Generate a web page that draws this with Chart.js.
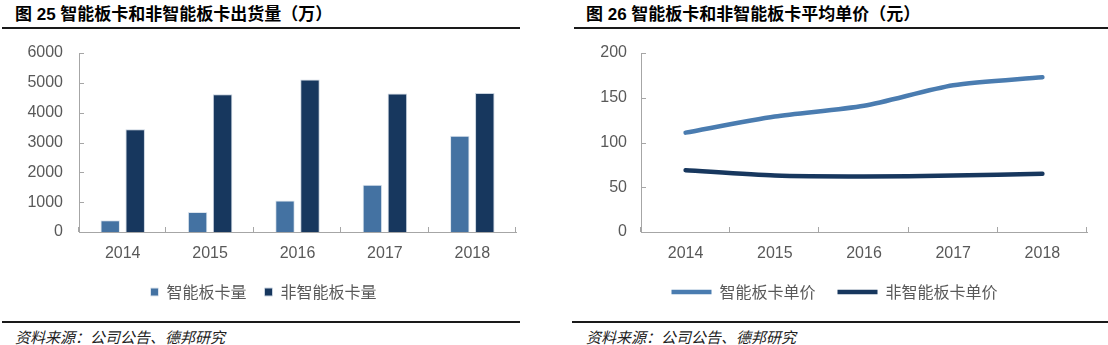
<!DOCTYPE html>
<html>
<head>
<meta charset="utf-8">
<script src="https://cdn.jsdelivr.net/npm/chart.js@4/dist/chart.umd.min.js"></script>
<style>
  body { margin: 0; background: #fff; width: 1108px; height: 345px; position: relative; overflow: hidden; }
  .title { position: absolute; top: 5px; font: bold 17px/20px "Liberation Sans", "Noto Sans CJK SC", sans-serif; color: #000; white-space: nowrap; }
  .rule { position: absolute; height: 2px; background: #1a1a1a; }
  .source { position: absolute; top: 328px; font: italic 15px/18px "Noto Sans CJK SC", sans-serif; color: #222; white-space: nowrap; }
  canvas { position: absolute; top: 40px; }
</style>
</head>
<body>
  <div class="title" style="left:15px">图 25 智能板卡和非智能板卡出货量（万）</div>
  <div class="rule" style="left:2px; width:518px; top:27px"></div>
  <canvas id="volumeChart" width="527" height="280" style="left:0"></canvas>
  <div class="rule" style="left:2px; width:518px; top:321px"></div>
  <div class="source" style="left:15px">资料来源：公司公告、德邦研究</div>

  <div class="title" style="left:586px">图 26 智能板卡和非智能板卡平均单价（元）</div>
  <div class="rule" style="left:574px; width:534px; top:27px"></div>
  <canvas id="priceChart" width="547" height="280" style="left:561px"></canvas>
  <div class="rule" style="left:572px; width:536px; top:321px"></div>
  <div class="source" style="left:586px">资料来源：公司公告、德邦研究</div>

<script>
const years = ['2014', '2015', '2016', '2017', '2018'];

// 出货量（万）
const smartVolume = [390, 670, 1060, 1580, 3230];
const nonSmartVolume = [3440, 4620, 5110, 4640, 4660];

// 平均单价（元）
const smartPrice = [111, 129, 141, 164, 173];
const nonSmartPrice = [69, 63, 62, 63, 65];

const lightBlue = '#4472a2';
const darkBlue = '#17375e';
const axisColor = '#a6a6a6';
const labelColor = '#595959';
const tickFont = { family: '"Liberation Sans", Arial, sans-serif', size: 16 };
const legendFont = { family: '"Noto Sans CJK SC", sans-serif', size: 16 };

// 坐标轴刻度线朝内
const innerTicks = {
  id: 'innerTicks',
  afterDraw(chart) {
    const { ctx, scales: { x, y } } = chart;
    ctx.save();
    ctx.strokeStyle = axisColor;
    ctx.lineWidth = 1;
    ctx.beginPath();
    const n = x.ticks.length;
    for (let i = 0; i <= n; i++) {
      const px = Math.round(x.left + i * x.width / n) - 0.5;
      ctx.moveTo(px, x.top);
      ctx.lineTo(px, x.top - 5);
    }
    y.ticks.forEach(t => {
      const py = Math.round(y.getPixelForValue(t.value)) + 0.5;
      ctx.moveTo(y.right, py);
      ctx.lineTo(y.right + 5, py);
    });
    ctx.stroke();
    ctx.restore();
  }
};

// tickLength 只用来留出标签与轴线的距离，刻度线本身由 innerTicks 画
function axes(yMax, step, yWidth, yGap, xHeight) {
  return {
    x: {
      offset: true,
      grid: { display: false, tickLength: 12 },
      border: { color: axisColor, width: 1 },
      ticks: { color: labelColor, font: tickFont, padding: 0 },
      afterFit: axis => { axis.height = xHeight; }
    },
    y: {
      min: 0,
      max: yMax,
      grid: { display: false, tickLength: yGap },
      border: { color: axisColor, width: 1 },
      ticks: { stepSize: step, color: labelColor, font: tickFont, padding: 0, callback: v => v },
      afterFit: axis => { axis.width = yWidth; }
    }
  };
}

new Chart(document.getElementById('volumeChart'), {
  type: 'bar',
  data: {
    labels: years,
    datasets: [
      { label: '智能板卡量', data: smartVolume, backgroundColor: lightBlue, borderColor: '#dde5ee', borderWidth: 1 },
      { label: '非智能板卡量', data: nonSmartVolume, backgroundColor: darkBlue, borderColor: '#c9d3df', borderWidth: 1 }
    ]
  },
  options: {
    responsive: false,
    animation: false,
    categoryPercentage: 0.572,
    barPercentage: 0.78,
    layout: { padding: { top: 13, right: 11, bottom: 10, left: 11 } },
    plugins: {
      legend: {
        position: 'bottom',
        labels: { boxWidth: 8, boxHeight: 8, padding: 18, color: labelColor, font: legendFont }
      },
      tooltip: { enabled: false }
    },
    scales: axes(6000, 1000, 68, 16, 52 - 18)
  },
  plugins: [innerTicks]
});

new Chart(document.getElementById('priceChart'), {
  type: 'line',
  data: {
    labels: years,
    datasets: [
      { label: '智能板卡单价', data: smartPrice, borderColor: '#4a7cb0', backgroundColor: '#4a7cb0', borderWidth: 4.5, borderCapStyle: 'round', pointRadius: 0, tension: 0.25 },
      { label: '非智能板卡单价', data: nonSmartPrice, borderColor: darkBlue, backgroundColor: darkBlue, borderWidth: 4.5, borderCapStyle: 'round', pointRadius: 0, tension: 0.25 }
    ]
  },
  options: {
    responsive: false,
    animation: false,
    layout: { padding: { top: 13, right: 21, bottom: 10, left: 21 } },
    plugins: {
      legend: {
        position: 'bottom',
        labels: { usePointStyle: true, pointStyle: 'line', pointStyleWidth: 40, padding: 22, color: labelColor, font: legendFont }
      },
      tooltip: { enabled: false }
    },
    scales: axes(200, 50, 59, 14, 52 - 22)
  },
  plugins: [innerTicks]
});
</script>
</body>
</html>
